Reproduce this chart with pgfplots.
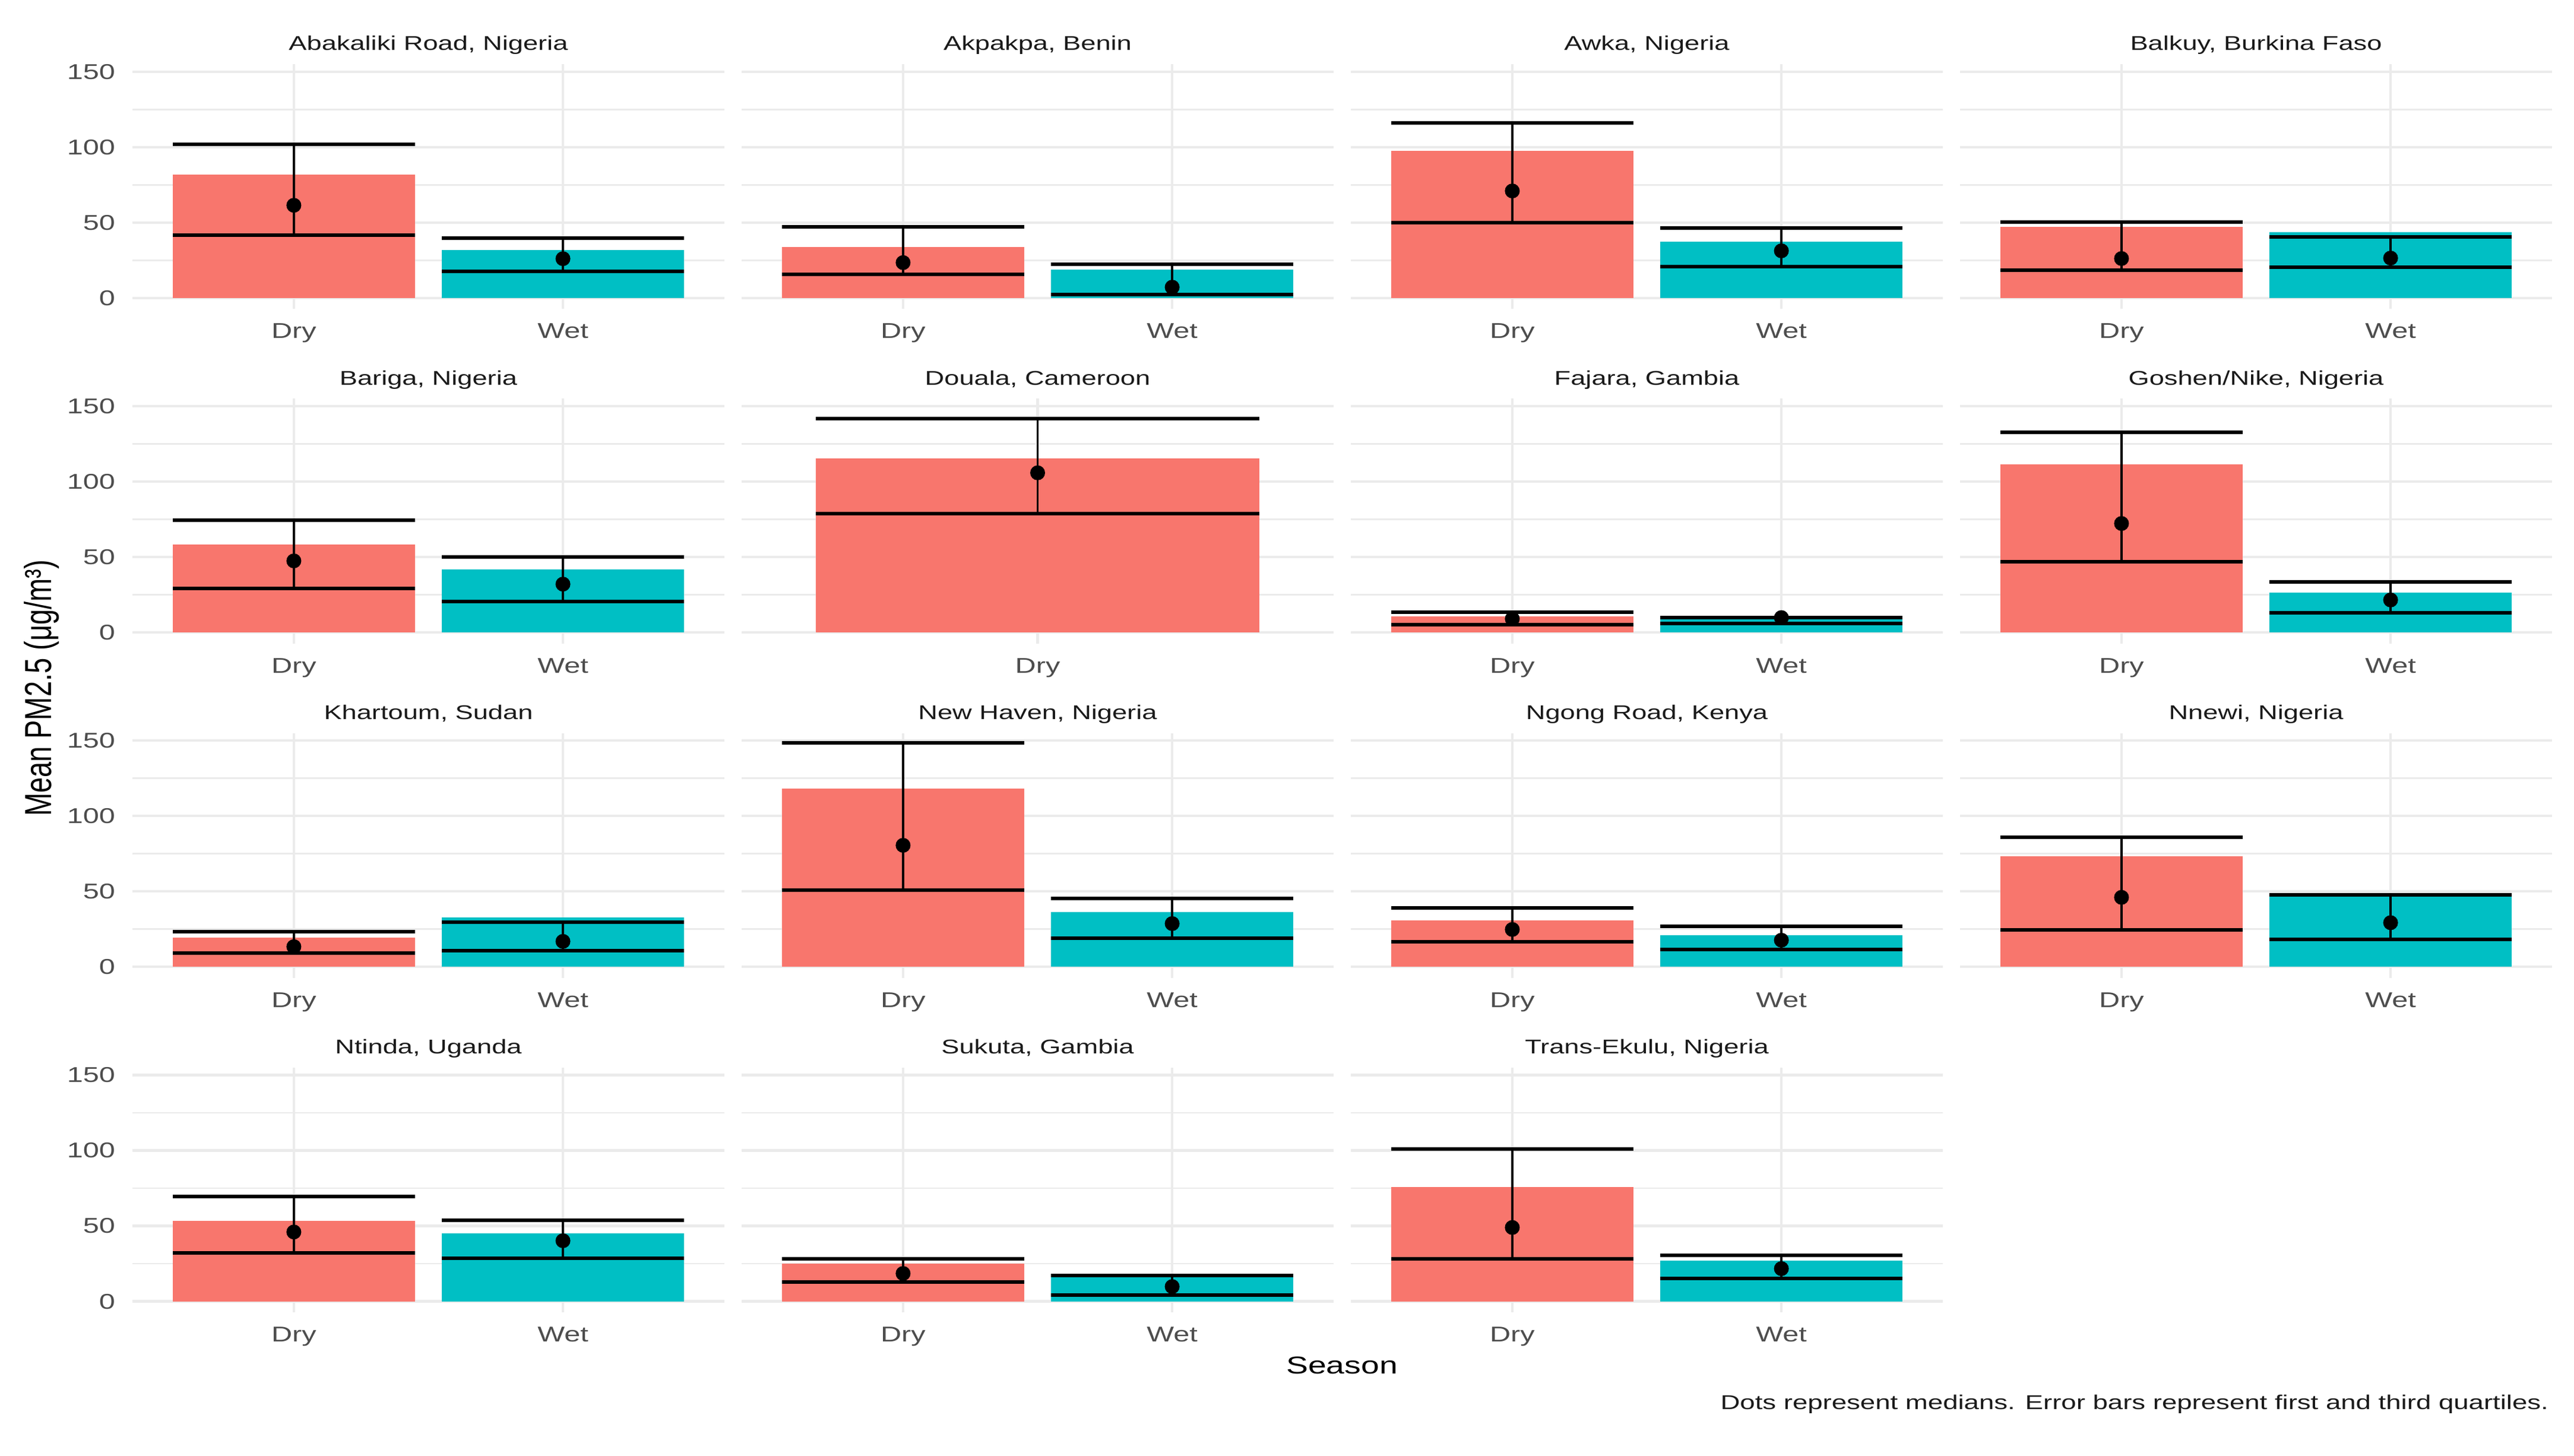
\documentclass[border=0pt]{standalone}
\usepackage{pgfplots}
\pgfplotsset{compat=1.18}
\usepackage{pgfplotstable}
\usepackage{fontspec}
\setmainfont{Liberation Sans}[FakeStretch=1.35]
\newfontfamily\ylabfont{Liberation Sans}

\definecolor{dryc}{HTML}{F8766D}
\definecolor{wetc}{HTML}{00BFC4}
\definecolor{gridc}{HTML}{EBEBEB}
\definecolor{tickc}{HTML}{4D4D4D}
\definecolor{stripc}{HTML}{1A1A1A}

% x: 1 = Dry, 2 = Wet; mean (bar), median (dot), first and third quartile
\pgfplotstableread{
x mean med q1 q3
1 81.7 61.4 41.5 102.0
2 31.7 26.0 17.6 39.5
}\tabAbakaliki
\pgfplotstableread{
x mean med q1 q3
1 33.6 23.4 15.5 47.0
2 18.8 7.1 2.3 22.3
}\tabAkpakpa
\pgfplotstableread{
x mean med q1 q3
1 97.7 70.9 50.0 116.0
2 37.2 31.2 20.8 46.3
}\tabAwka
\pgfplotstableread{
x mean med q1 q3
1 47.2 26.1 18.5 50.2
2 43.7 26.4 20.4 40.3
}\tabBalkuy
\pgfplotstableread{
x mean med q1 q3
1 58.4 47.4 29.3 74.5
2 41.7 32.0 20.3 50.1
}\tabBariga
\pgfplotstableread{
x mean med q1 q3
1 115.5 105.8 78.7 141.9
}\tabDouala
\pgfplotstableread{
x mean med q1 q3
1 10.5 9.0 5.3 13.5
2 9.6 9.8 6.0 9.9
}\tabFajara
\pgfplotstableread{
x mean med q1 q3
1 111.6 72.2 46.9 132.8
2 26.3 21.5 13.1 33.4
}\tabGoshen
\pgfplotstableread{
x mean med q1 q3
1 19.3 13.4 9.0 23.2
2 32.6 16.9 10.7 29.7
}\tabKhartoum
\pgfplotstableread{
x mean med q1 q3
1 118.2 80.6 51.0 148.6
2 36.3 28.7 18.9 45.5
}\tabNewHaven
\pgfplotstableread{
x mean med q1 q3
1 30.8 24.8 16.6 38.9
2 20.8 17.7 11.4 26.7
}\tabNgong
\pgfplotstableread{
x mean med q1 q3
1 73.4 46.1 24.5 86.1
2 48.7 29.3 18.2 47.8
}\tabNnewi
\pgfplotstableread{
x mean med q1 q3
1 53.3 46.0 32.2 69.4
2 45.1 40.2 28.5 53.7
}\tabNtinda
\pgfplotstableread{
x mean med q1 q3
1 25.0 18.5 13.0 28.0
2 16.3 9.8 4.3 17.0
}\tabSukuta
\pgfplotstableread{
x mean med q1 q3
1 76.0 49.0 28.0 101.0
2 27.0 21.7 15.2 30.4
}\tabTransEkulu

\pgfplotsset{
  facet/.style={
    scale only axis, width=199.4pt, height=82.5pt, anchor=south west,
    xmin=0.4, xmax=2.6, ymin=-7.4, ymax=155,
    xtick={1,2}, xticklabels={Dry,Wet},
    ytick={0,50,100,150}, minor ytick={25,75,125},
    yticklabels={,,,},
    xmajorgrids, ymajorgrids, yminorgrids,
    major grid style={gridc, line width=0.85pt},
    minor grid style={gridc, line width=0.55pt},
    axis line style={draw=none},
    major tick length=0pt, minor tick length=0pt,
    tick style={draw=none},
    tick label style={font=\fontsize{7.2}{8}\selectfont, text=tickc},
    xticklabel style={anchor=base, yshift=-9.9pt},
    every axis title shift=0pt,
    title style={font=\fontsize{6.7}{8}\selectfont, text=stripc,
      anchor=base, at={(0.5,1)}, yshift=4.6pt},
  },
  leftcol/.style={
    yticklabels={0,50,100,150},
    yticklabel style={anchor=east, inner sep=0pt, xshift=-5.6pt},
  },
  cap/.style={draw=none, mark=none,
    error bars/.cd, x dir=both, x fixed=0.45, error mark=none,
    error bar style={draw=black, line width=1.2pt}},
}

% #1 extra options, #2 column, #3 row, #4 title, #5 table
\newcommand\facet[5][]{%
  \begin{axis}[facet, at={(44.6pt+205.2pt*#2, 386.1pt-112.66pt*#3)}, title={#4}, #1]
    \addplot[ybar, bar width=0.9, bar shift=0pt, fill=dryc, draw=none,
      restrict x to domain=0.5:1.5] table[x=x, y=mean] {#5};
    \addplot[ybar, bar width=0.9, bar shift=0pt, fill=wetc, draw=none,
      restrict x to domain=1.5:2.5] table[x=x, y=mean] {#5};
    \addplot[cap] table[x=x, y=q3] {#5};
    \addplot[cap] table[x=x, y=q1] {#5};
    \addplot[black, only marks, mark=*, mark size=2.3pt,
      error bars/.cd, y dir=both, y explicit, error mark=none,
      error bar style={line width=0.7pt}]
      table[x=x, y=med, y error plus expr=\thisrow{q3}-\thisrow{med},
        y error minus expr=\thisrow{med}-\thisrow{q1}] {#5};
  \end{axis}}

\begin{document}
\begin{tikzpicture}
\path[use as bounding box] (0,0) rectangle (867pt,490.2pt);

\facet[leftcol]{0}{0}{Abakaliki Road, Nigeria}{\tabAbakaliki}
\facet{1}{0}{Akpakpa, Benin}{\tabAkpakpa}
\facet{2}{0}{Awka, Nigeria}{\tabAwka}
\facet{3}{0}{Balkuy, Burkina Faso}{\tabBalkuy}

\facet[leftcol]{0}{1}{Bariga, Nigeria}{\tabBariga}
\facet[xmin=0.4, xmax=1.6, xtick={1}, xticklabels={Dry}]{1}{1}{Douala, Cameroon}{\tabDouala}
\facet{2}{1}{Fajara, Gambia}{\tabFajara}
\facet{3}{1}{Goshen/Nike, Nigeria}{\tabGoshen}

\facet[leftcol]{0}{2}{Khartoum, Sudan}{\tabKhartoum}
\facet{1}{2}{New Haven, Nigeria}{\tabNewHaven}
\facet{2}{2}{Ngong Road, Kenya}{\tabNgong}
\facet{3}{2}{Nnewi, Nigeria}{\tabNnewi}

\facet[leftcol]{0}{3}{Ntinda, Uganda}{\tabNtinda}
\facet{1}{3}{Sukuta, Gambia}{\tabSukuta}
\facet{2}{3}{Trans-Ekulu, Nigeria}{\tabTransEkulu}

\node[rotate=90, yscale=1.35, font=\ylabfont\fontsize{9.4}{11}\selectfont]
  at (14pt,258.4pt) {Mean PM2.5 (μg/m³)};
\node[font=\fontsize{8.2}{10}\selectfont] at (452pt,30.4pt) {Season};
\node[anchor=base east, inner sep=0pt, text=stripc, font=\fontsize{6.75}{8}\selectfont]
  at (858.6pt,15.6pt) {Dots represent medians. Error bars represent first and third quartiles.};
\end{tikzpicture}
\end{document}
